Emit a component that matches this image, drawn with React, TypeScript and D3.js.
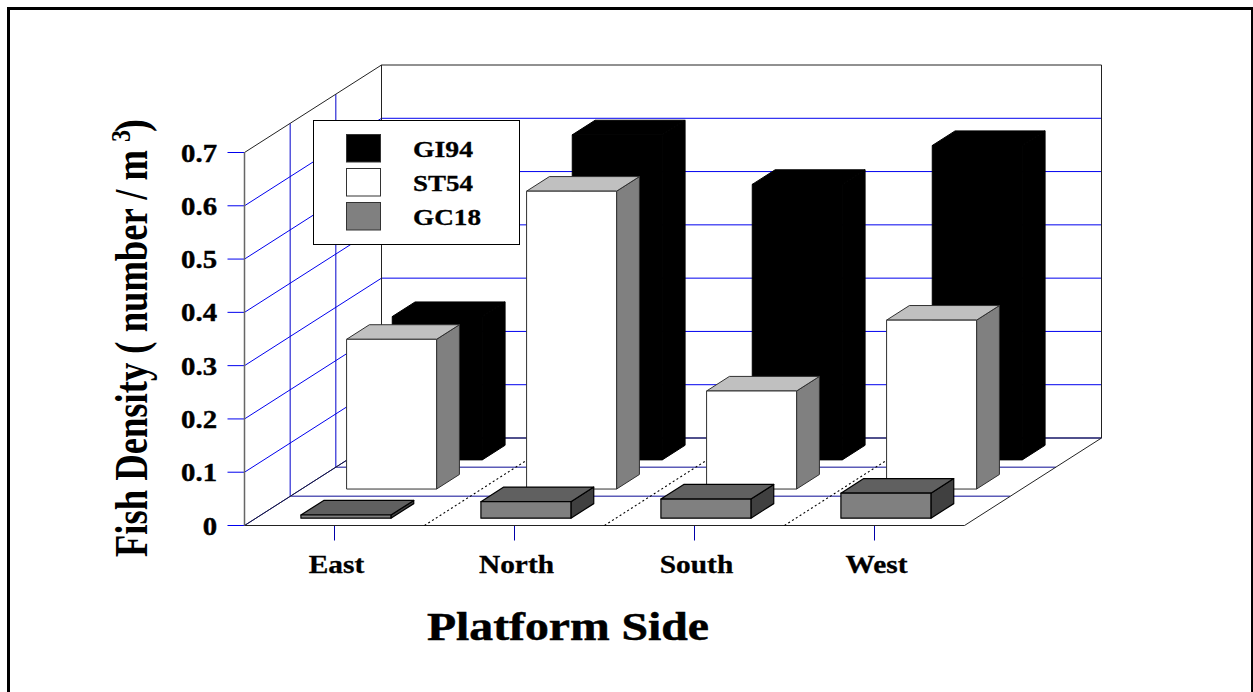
import React from "react";
import * as d3 from "d3";

const categories = ["East", "North", "South", "West"];
const seriesNames = ["GI94", "ST54", "GC18"];
const GI94 = [0.269, 0.61, 0.517, 0.59];
const ST54 = [0.281, 0.559, 0.184, 0.317];
const GC18 = [0.006, 0.031, 0.036, 0.047];
const yTicks = [0, 0.1, 0.2, 0.3, 0.4, 0.5, 0.6, 0.7];
const yTickLabels = ["0", "0.1", "0.2", "0.3", "0.4", "0.5", "0.6", "0.7"];

const x = d3.scaleBand<string>().domain(categories).range([244.5, 964.5]);
const y = d3.scaleLinear().domain([0, 0.7]).range([525.5, 152.5]);
const depth = d3.scaleLinear().domain([0, 1]);
const dx = depth.copy().range([0, 137]);
const dy = depth.copy().range([0, -87.5]);
const P = (px: number, py: number, d: number): [number, number] => [px + dx(d), py + dy(d)];
const line = d3.line();
const poly = (pts: [number, number][]) => line(pts) + "Z";

const BLUE = "#0000ee";
const FLOOR = "#5c5cb8";
const SERIF = "'Liberation Serif','Times New Roman',serif";

const styles = [
  { front: "#000000", top: "#000000", side: "#000000", stroke: "#000000", sw: 1, z0: 9 / 12, z1: 11 / 12, v: GI94 },
  { front: "#ffffff", top: "#c0c0c0", side: "#808080", stroke: "#303030", sw: 1, z0: 5 / 12, z1: 7 / 12, v: ST54 },
  { front: "#808080", top: "#606060", side: "#404040", stroke: "#000000", sw: 1.2, z0: 1 / 12, z1: 3 / 12, v: GC18 },
];

function Bar({ i, s }: { i: number; s: (typeof styles)[number] }) {
  const bw = x.bandwidth() / 2;
  const x0 = x(categories[i])! + bw / 2;
  const x1 = x0 + bw;
  const yb = y(0);
  const yt = y(s.v[i]);
  const a = P(x0, yt, s.z0), b = P(x1, yt, s.z0), c = P(x1, yb, s.z0), e = P(x0, yb, s.z0);
  const f = P(x1, yt, s.z1), g = P(x0, yt, s.z1), h = P(x1, yb, s.z1);
  return (
    <g stroke={s.stroke} strokeWidth={s.sw} strokeLinejoin="round">
      <path d={poly([b, f, h, c])} fill={s.side} />
      <path d={poly([a, g, f, b])} fill={s.top} />
      <path d={poly([a, b, c, e])} fill={s.front} />
    </g>
  );
}

export default function App() {
  const [xL, xR] = x.range();
  const y0 = y(0);
  const yTop = y(0.7);
  const tops = [1 / 3, 2 / 3];
  const sep = categories.slice(1).map((c) => x(c)!);
  const legendFill = ["#000000", "#ffffff", "#808080"];
  return (
    <svg width={1253} height={692} style={{ position: "fixed", left: 0, top: 0, display: "block", background: "#fff" }}>
      <path d="M8.5 692V8.5H1252.5V692" fill="none" stroke="#000" strokeWidth={3} />

      {yTicks.slice(0, -1).map((t) => {
        const a = P(xL, y(t), 0), b = P(xL, y(t), 1), c = P(xR, y(t), 1);
        return (
          <g key={t} fill="none" stroke={BLUE} strokeWidth={1}>
            <path d={line([a, b])!} />
            <path d={line([b, c])!} />
          </g>
        );
      })}
      {tops.map((d) => {
        const a = P(xL, y0, d), b = P(xL, yTop, d), c = P(xR, y0, d);
        return (
          <g key={d} fill="none">
            <path d={line([a, b])!} stroke="#0000cc" />
            <path d={line([a, c])!} stroke={FLOOR} strokeWidth={1.5} />
          </g>
        );
      })}
      {yTicks.map((t) => (
        <path key={t} d={line([[xL - 17, y(t)], [xL, y(t)]])!} stroke={BLUE} fill="none" />
      ))}
      {categories.map((c) => {
        const cx = x(c)! + x.bandwidth() / 2;
        return <path key={c} d={line([[cx, y0], [cx, y0 + 15]])!} stroke="#0000aa" fill="none" />;
      })}

      <g fill="none" stroke="#222" strokeWidth={1}>
        <path d={line([P(xL, yTop, 0), P(xL, yTop, 1), P(xR, yTop, 1), P(xR, y0, 1), P(xL, y0, 1), P(xL, yTop, 1)])!} />
        <path d={line([P(xL, y0, 1), P(xL, y0, 0), P(xR, y0, 0), P(xR, y0, 1)])!} />
        <path d={line([P(xL, yTop, 0), P(xL, y0, 0)])!} stroke="#666" strokeWidth={1.5} />
      </g>

      {sep.map((s) => (
        <path key={s} d={line([P(s, y0, 0), P(s, y0, 1)])!} stroke="#000" strokeWidth={1.1} strokeDasharray="2 2.5" fill="none" />
      ))}

      {styles.map((s, k) => (
        <g key={k}>{categories.map((_, i) => <Bar key={i} i={i} s={s} />)}</g>
      ))}

      <g fontFamily={SERIF} fontWeight="bold" fontSize={25} fill="#000">
        {yTicks.map((t, i) => (
          <text key={t} transform={`translate(217,${y(t) + 9}) scale(1.15,1)`} textAnchor="end" stroke="#000" strokeWidth={0.4}>{yTickLabels[i]}</text>
        ))}
      </g>
      <g fontFamily={SERIF} fontWeight="bold" fontSize={26} fill="#000">
        {categories.map((c) => (
          <text key={c} transform={`translate(${x(c)! + x.bandwidth() / 2 + 2},573) scale(1.13,1)`} textAnchor="middle" stroke="#000" strokeWidth={0.3}>{c}</text>
        ))}
      </g>

      <text x={427} y={640} fontFamily={SERIF} fontWeight="bold" fontSize={39} textLength={282} lengthAdjust="spacingAndGlyphs" stroke="#000" strokeWidth={0.5}>Platform Side</text>
      <g transform="translate(147,557) rotate(-90)" fontFamily={SERIF} fontWeight="bold" fill="#000">
        <text x={0} y={0} fontSize={46} textLength={407} lengthAdjust="spacingAndGlyphs">Fish Density ( number / m</text>
        <text x={415} y={-17} fontSize={27} textLength={12} lengthAdjust="spacingAndGlyphs">3</text>
        <text x={425} y={0} fontSize={46} textLength={13} lengthAdjust="spacingAndGlyphs">)</text>
      </g>

      <rect x={313.5} y={120.5} width={206} height={124} fill="#fff" stroke="#000" strokeWidth={1} />
      {seriesNames.map((n, i) => {
        const ly = 134 + i * 34;
        return (
          <g key={n}>
            <rect x={346.5} y={ly + 0.5} width={34} height={27.5} fill={legendFill[i]} stroke="#333" />
            <text x={413} y={ly + 23} fontFamily={SERIF} fontWeight="bold" fontSize={23} stroke="#000" strokeWidth={0.3} textLength={i === 2 ? 68 : 60} lengthAdjust="spacingAndGlyphs">{n}</text>
          </g>
        );
      })}
    </svg>
  );
}
